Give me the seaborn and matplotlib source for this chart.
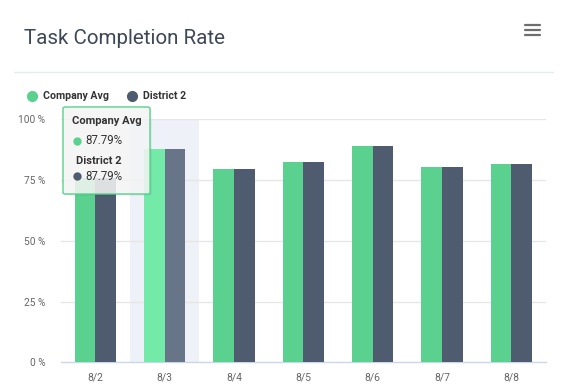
import matplotlib
matplotlib.use("Agg")
import matplotlib.pyplot as plt
import seaborn as sns
import pandas as pd
from matplotlib.patches import FancyBboxPatch
from matplotlib.lines import Line2D

dates = ["8/2", "8/3", "8/4", "8/5", "8/6", "8/7", "8/8"]
company_avg = [76.0, 87.79, 79.6, 82.4, 89.0, 80.5, 81.7]
district_2 = [76.0, 87.79, 79.6, 82.4, 89.0, 80.5, 81.7]
series_names = ["Company Avg", "District 2"]
y_ticks = [0, 25, 50, 75, 100]
y_tick_labels = ["0 %", "25 %", "50 %", "75 %", "100 %"]
hover_index = 1

GREEN = "#5ad18f"
DARK = "#4f5b6e"
GREEN_HI = "#74eaa9"
DARK_HI = "#687488"

sns.set_theme(style="white")
plt.rcParams["font.family"] = ["Roboto", "DejaVu Sans"]

W, H = 563, 391
fig = plt.figure(figsize=(W / 100, H / 100), dpi=100)

def fx(px):
    return px / W

def fy(py):
    return 1 - py / H

ax_left, ax_right, ax_top, ax_bottom = 60.7, 546.0, 119.3, 362.3
ax = fig.add_axes([fx(ax_left), fy(ax_bottom), fx(ax_right - ax_left), (ax_bottom - ax_top) / H])

df = pd.DataFrame({
    "date": dates * 2,
    "value": company_avg + district_2,
    "series": [series_names[0]] * len(dates) + [series_names[1]] * len(dates),
})

sns.barplot(data=df, x="date", y="value", hue="series", order=dates, hue_order=series_names,
            palette=[GREEN, DARK], width=0.6, gap=0, saturation=1, ax=ax, legend=False,
            errorbar=None, zorder=3, linewidth=0)

n = len(dates)
for p in ax.patches:
    x0 = p.get_x()
    w = p.get_width()
    if p.get_height() <= 0:
        continue
    if hover_index - 0.5 < x0 < hover_index + 0.5:
        if x0 + w / 2 < hover_index:
            p.set_facecolor(GREEN_HI)
        else:
            p.set_facecolor(DARK_HI)

ax.axvspan(hover_index - 0.5, hover_index + 0.5, color="#eef1f7", zorder=0, lw=0)

ax.set_xlim(-0.5, n - 0.5)
ax.set_ylim(0, 100)
ax.set_xlabel("")
ax.set_ylabel("")
for t in y_ticks[1:]:
    ax.axhline(t, color="#e6e6e6", lw=1, zorder=1)
ax.set_yticks(y_ticks)
ax.set_yticklabels(y_tick_labels)
ax.tick_params(axis="y", length=0, pad=11, labelsize=7.3, labelcolor="#666666")
ax.tick_params(axis="x", length=0, pad=7, labelsize=7.5, labelcolor="#666666")
ax.set_xticks(range(n))
ax.set_xticks([i - 0.5 for i in range(n + 1)], minor=True)
ax.tick_params(axis="x", which="minor", length=7, width=1, color="#ccd6eb", direction="out")
for side in ["top", "right", "left"]:
    ax.spines[side].set_visible(False)
ax.spines["bottom"].set_color("#ccd6eb")
ax.spines["bottom"].set_linewidth(1)

# Title
fig.text(fx(24), fy(38), "Task Completion Rate", fontsize=14.8, color="#3d4757", va="center", ha="left")
# separator
fig.add_artist(Line2D([fx(14), fx(553)], [fy(72), fy(72)], color="#e6ecf2", lw=1))
# hamburger
for yy in [25, 30, 35]:
    fig.add_artist(Line2D([fx(525), fx(540)], [fy(yy), fy(yy)], color="#6e6e6e", lw=1.6))

# Legend
for cx, txt, col in [(32, series_names[0], GREEN), (132, series_names[1], DARK)]:
    fig.add_artist(Line2D([fx(cx)], [fy(96)], marker="o", markersize=7, color=col, lw=0))
    fig.text(fx(cx + 11), fy(96), txt, fontsize=7.6, fontweight="bold", color="#333333", va="center", ha="left")

# Tooltip
tx0, ty0, tx1, ty1 = 63, 107, 150, 194
shadow = FancyBboxPatch((fx(tx0 + 1.5), fy(ty1 + 1.5)), fx(tx1 - tx0), (ty1 - ty0) / H,
                        boxstyle="round,pad=0,rounding_size=0.004", transform=fig.transFigure,
                        facecolor="#000000", alpha=0.08, lw=0, zorder=9)
fig.add_artist(shadow)
box = FancyBboxPatch((fx(tx0), fy(ty1)), fx(tx1 - tx0), (ty1 - ty0) / H,
                     boxstyle="round,pad=0,rounding_size=0.004", transform=fig.transFigure,
                     facecolor="#f7f7f7", alpha=0.86, lw=0, zorder=10)
fig.add_artist(box)
box_edge = FancyBboxPatch((fx(tx0), fy(ty1)), fx(tx1 - tx0), (ty1 - ty0) / H,
                          boxstyle="round,pad=0,rounding_size=0.004", transform=fig.transFigure,
                          facecolor="none", edgecolor=GREEN, lw=1, zorder=11)
fig.add_artist(box_edge)
fig.text(fx(72), fy(121), series_names[0], fontsize=8, fontweight="bold", color="#333333",
         va="center", ha="left", zorder=12)
fig.text(fx(85), fy(141), f"{company_avg[hover_index]:.2f}%", fontsize=8.3, color="#333333",
         va="center", ha="left", zorder=12)
fig.text(fx(76), fy(161), series_names[1], fontsize=8, fontweight="bold", color="#333333",
         va="center", ha="left", zorder=12)
fig.text(fx(85), fy(176), f"{district_2[hover_index]:.2f}%", fontsize=8.3, color="#333333",
         va="center", ha="left", zorder=12)
for cx, cy, col in [(77, 141, GREEN), (77, 176, DARK)]:
    fig.add_artist(Line2D([fx(cx)], [fy(cy)], marker="o", markersize=5, color=col, lw=0, zorder=12))

fig.savefig("out.png", dpi=100)
